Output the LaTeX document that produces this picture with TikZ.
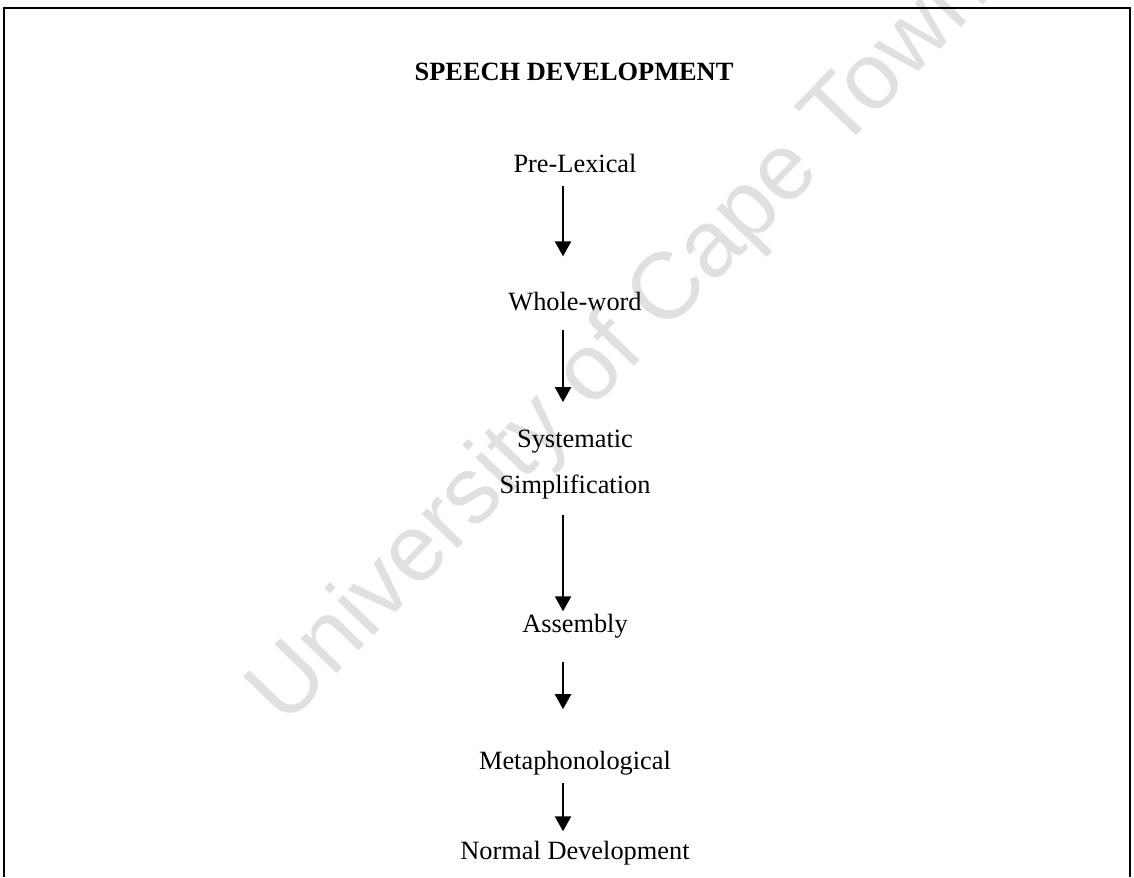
\documentclass[tikz,border=0pt]{standalone}
\usepackage{fontspec}
\setmainfont{Liberation Serif}
\newfontfamily\wmfont{Liberation Sans}
\usetikzlibrary{arrows.meta}

\begin{document}
\begin{tikzpicture}[x=0.455pt, y=-0.455pt,
  >={Triangle[length=6.8pt, width=7.3pt]},
  stage/.style={inner sep=0pt, anchor=base, font=\fontsize{12}{14}\selectfont},
  heading/.style={stage, font=\fontsize{12}{14}\selectfont\bfseries},
  flow/.style={->, line width=0.9pt},
  frame/.style={line width=0.9pt},
  watermark/.style={inner sep=0pt, anchor=base west, text=black!12, font=\wmfont\fontsize{43}{49}\selectfont}]
\useasboundingbox (0,0) rectangle (1134,877);
\node[watermark, rotate=46] (wm) at (285,728) {University of Cape Town};
\draw[frame] (4,877) -- (4,8) -- (1130,8) -- (1130,877);

\node[heading] (title) at (574,80) {SPEECH DEVELOPMENT};
\node[stage] (pre) at (575,172) {Pre-Lexical};
\node[stage] (whole) at (575,310) {Whole-word};
\node[stage] (sys) at (575,447) {Systematic};
\node[stage] (simp) at (575,493) {Simplification};
\node[stage] (asm) at (575,632) {Assembly};
\node[stage] (meta) at (575,769) {Metaphonological};
\node[stage] (norm) at (575,859) {Normal Development};
\coordinate (spine) at (563,0);

\draw[flow, shorten <=5.9pt, shorten >=15.9pt] (pre.south -| spine) -- (whole.north -| spine);
\draw[flow, shorten <=8.6pt, shorten >=12.3pt] (whole.south -| spine) -- (sys.north -| spine);
\draw[flow, shorten <=7.3pt, shorten >=0.9pt] (simp.south -| spine) -- (asm.north -| spine);
\draw[flow, shorten <=10.9pt, shorten >=18.7pt] (asm.south -| spine) -- (meta.north -| spine);
\draw[flow, shorten <=3.6pt, shorten >=4.1pt] (meta.south -| spine) -- (norm.north -| spine);
\end{tikzpicture}
\end{document}
